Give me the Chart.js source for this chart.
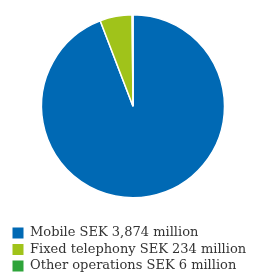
<!DOCTYPE html>
<html>
<head>
<meta charset="utf-8">
<script src="https://cdn.jsdelivr.net/npm/chart.js@4"></script>
<style>
  html, body { margin: 0; padding: 0; background: #fff; }
  #wrap { width: 257px; height: 277px; position: relative; }
</style>
</head>
<body>
<div id="wrap"><canvas id="pie"></canvas></div>
<script>
const segments = ['Mobile', 'Fixed telephony', 'Other operations'];
const amounts = [3874, 234, 6];
const legendLabels = ['Mobile SEK 3,874 million', 'Fixed telephony SEK 234 million', 'Other operations SEK 6 million'];
const sliceColors = ['#0069b4', '#a0c31a', '#2ea43a'];

const pieLabels = Chart.overrides.pie.plugins.legend.labels.generateLabels;

new Chart(document.getElementById('pie'), {
  type: 'pie',
  data: {
    labels: legendLabels,
    datasets: [{
      label: 'Net sales',
      data: amounts,
      backgroundColor: sliceColors,
      borderColor: '#ffffff',
      borderWidth: 1.5
    }]
  },
  options: {
    responsive: true,
    maintainAspectRatio: false,
    animation: false,
    // legend has ~10px of dead space at its bottom, so pull it down a bit
    layout: { padding: { left: 9, right: 0, top: 14, bottom: -5.5 } },
    plugins: {
      tooltip: { enabled: false },
      legend: {
        position: 'bottom',
        align: 'start',
        // empty title just to leave a gap between pie and legend
        title: { display: true, text: '', font: { size: 10, lineHeight: 1 }, padding: { top: 7, bottom: 7.5 } },
        labels: {
          boxWidth: 11,
          boxHeight: 11,
          padding: 3.5,
          color: '#333333',
          font: { family: 'DejaVu Serif', size: 13 },
          generateLabels: (chart) => pieLabels(chart).map(l => ({ ...l, lineWidth: 0 }))
        }
      }
    }
  }
});
</script>
</body>
</html>
